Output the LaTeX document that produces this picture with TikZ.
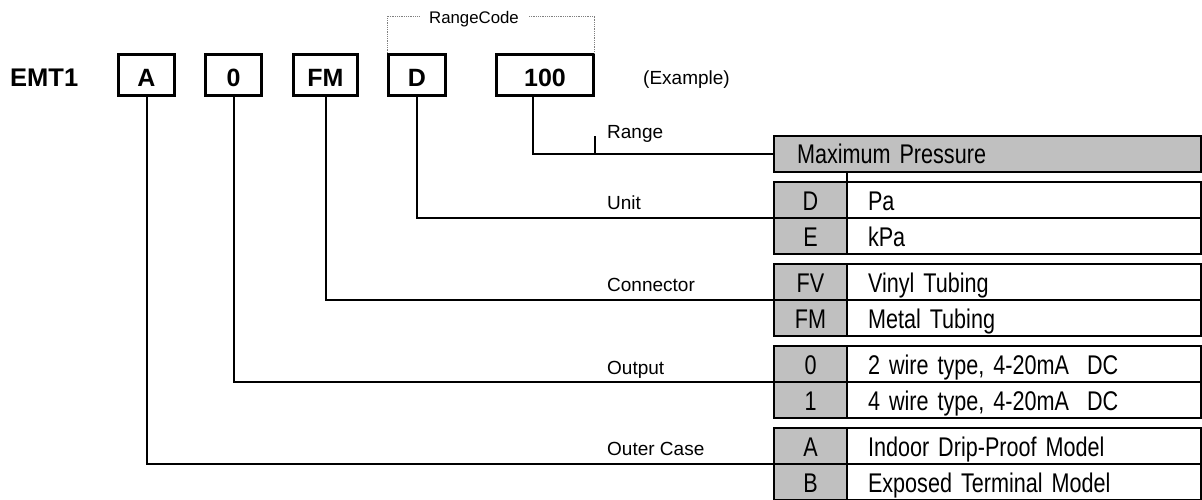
\documentclass[tikz,border=0pt]{standalone}
\usepackage{fontspec}
\setmainfont{Liberation Sans}
\newfontfamily\tabfont[FakeStretch=0.8]{Liberation Sans}
\usetikzlibrary{positioning}
\definecolor{cellgray}{RGB}{192,192,192}
\tikzset{
	codebox/.style={draw,line width=2.6pt,inner sep=0pt,minimum height=41.5pt,text height=25pt,text depth=1.6pt,font=\fontsize{25}{30}\selectfont\bfseries},
	lbl/.style={anchor=base west,inner sep=0pt,font=\fontsize{19}{22}\selectfont},
	keycell/.style={draw,line width=2pt,fill=cellgray,outer sep=0pt,inner sep=0pt,minimum width=73pt,minimum height=36pt,text height=25pt,text depth=5pt,font=\fontsize{27}{30}\tabfont},
	desccell/.style={draw,line width=2pt,outer sep=0pt,inner xsep=21pt,inner ysep=0pt,text width=312pt,align=left,minimum height=36pt,text height=25pt,text depth=5pt,font=\fontsize{27}{30}\tabfont},
	hdrcell/.style={desccell,fill=cellgray,inner xsep=23pt,text width=381pt},
	wire/.style={line width=2pt}
}
\begin{document}
\begin{tikzpicture}[x=1pt,y=-1pt]
	\useasboundingbox (0,0) rectangle (1202,500);
	% model code
	\node[anchor=base west,inner sep=0pt,font=\fontsize{25.5}{30}\selectfont\bfseries] (model) at (10,86.7) {EMT1};
	\node[codebox,minimum width=56pt] (bxA) at (146.5,75) {A};
	\node[codebox,minimum width=56pt] (bx0) at (233.5,75) {0};
	\node[codebox,minimum width=64pt] (bxFM) at (325.5,75) {FM};
	\node[codebox,minimum width=57pt] (bxD) at (417,75) {D};
	\node[codebox,minimum width=97pt] (bx100) at (545,75) {100};
	\node[lbl] (example) at (643,84.5) {(Example)};
	
	\coordinate (rtop) at (475,16);
	\node[anchor=base,inner xsep=10pt,inner ysep=0pt,font=\fontsize{16.8}{19}\selectfont] (rcode) at (474,24) {RangeCode};
	\draw[gray,densely dotted,line width=0.8pt] (bxD.north west) -- (bxD.north west |- rtop) -- (rcode.west |- rtop);
	\draw[gray,densely dotted,line width=0.8pt] (rcode.east |- rtop) -- (bx100.north east |- rtop) -- (bx100.north east);
	
	% tables
	\node[hdrcell] (hdr) at (987.5,154) {Maximum Pressure};
	
	\node[keycell] (unitD) at (810.5,200) {D};
	\node[desccell,right=0pt of unitD] (unitDd) {Pa};
	\node[keycell,below=0pt of unitD] (unitE) {E};
	\node[desccell,right=0pt of unitE] (unitEd) {kPa};
	
	\node[keycell] (conFV) at (810.5,282) {FV};
	\node[desccell,right=0pt of conFV] (conFVd) {Vinyl Tubing};
	\node[keycell,below=0pt of conFV] (conFM) {FM};
	\node[desccell,right=0pt of conFM] (conFMd) {Metal Tubing};
	
	\node[keycell] (out0) at (810.5,364) {0};
	\node[desccell,right=0pt of out0] (out0d) {2 wire type, 4-20mA~~DC};
	\node[keycell,below=0pt of out0] (out1) {1};
	\node[desccell,right=0pt of out1] (out1d) {4 wire type, 4-20mA~~DC};
	
	\node[keycell] (caseA) at (810.5,446) {A};
	\node[desccell,right=0pt of caseA] (caseAd) {Indoor Drip-Proof Model};
	\node[keycell,below=0pt of caseA] (caseB) {B};
	\node[desccell,right=0pt of caseB] (caseBd) {Exposed Terminal Model};
	
	\draw[wire] (hdr.south -| unitD.east) -- (unitD.north east);
	
	% labels
	\node[lbl] (lrange) at (607,138.3) {Range};
	\node[lbl] (lunit) at (607,209.3) {Unit};
	\node[lbl] (lconn) at (607,291.7) {Connector};
	\node[lbl] (lout) at (607,374.5) {Output};
	\node[lbl] (lcase) at (607,455.5) {Outer Case};
	
	% lines
	\draw[wire] ([xshift=-12pt]bx100.south) |- (hdr.west);
	\draw[wire] (bx100.south east |- hdr.west) -- ++(0,-18);
	\draw[wire] (bxD.south) |- (unitD.south west);
	\draw[wire] (bxFM.south) |- (conFV.south west);
	\draw[wire] (bx0.south) |- (out0.south west);
	\draw[wire] (bxA.south) |- (caseA.south west);
\end{tikzpicture}
\end{document}
